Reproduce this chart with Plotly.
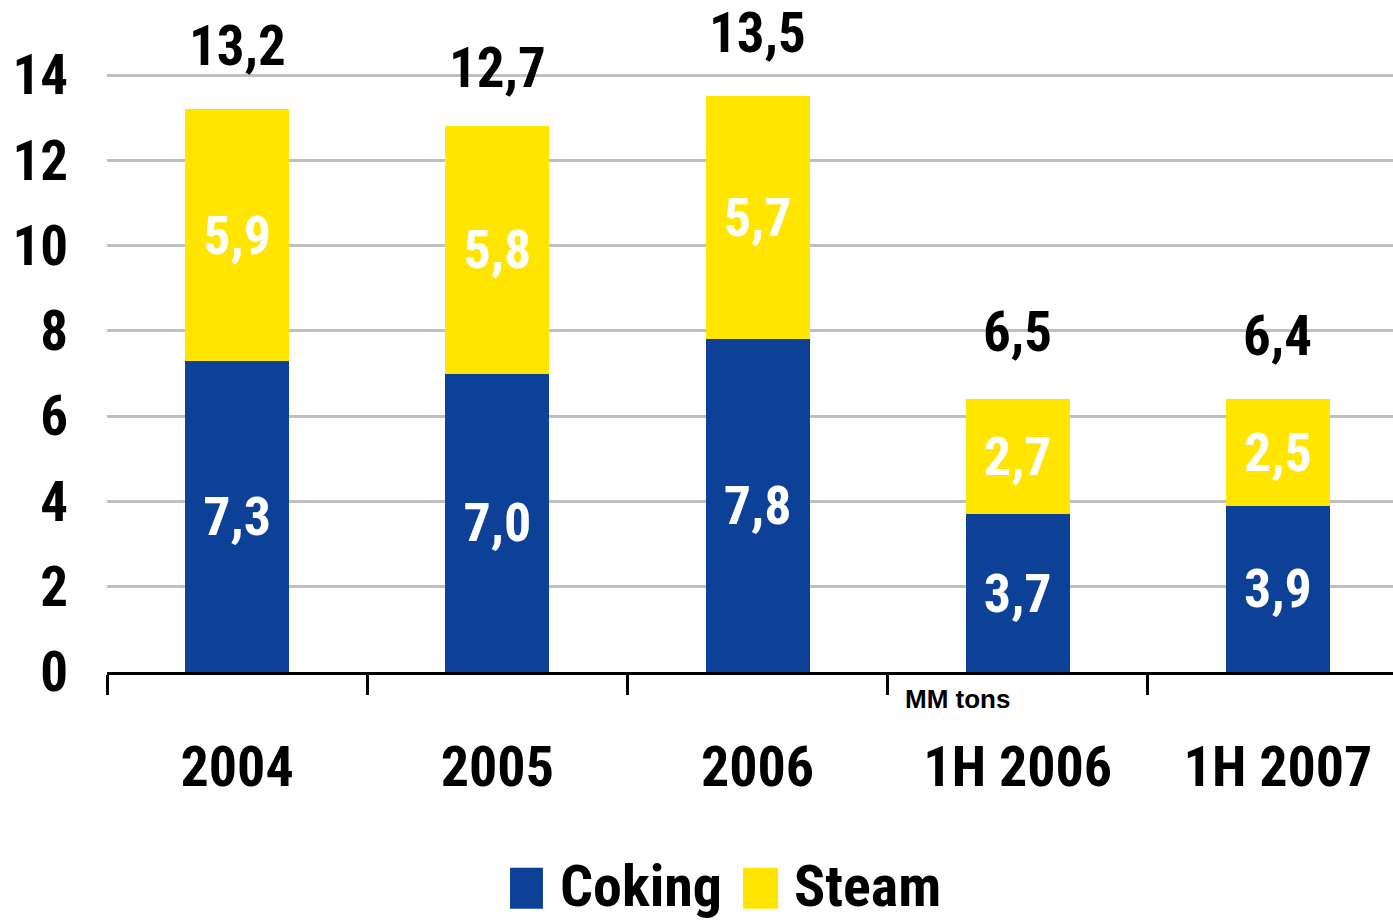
import plotly.graph_objects as go

categories = ["2004", "2005", "2006", "1H 2006", "1H 2007"]
coking = [7.3, 7.0, 7.8, 3.7, 3.9]
steam = [5.9, 5.8, 5.7, 2.7, 2.5]
totals = [13.2, 12.7, 13.5, 6.5, 6.4]
y_ticks = [0, 2, 4, 6, 8, 10, 12, 14]

BLUE = "#0D4198"
YELLOW = "#FFE500"
FONT = "Liberation Sans Narrow, Arial Narrow, Roboto Condensed, Liberation Sans, sans-serif"

def fmt(v):
    return f"{v:.1f}".replace(".", ",")

fig = go.Figure()
fig.add_trace(go.Bar(
    x=categories, y=coking, name="Coking", marker=dict(color=BLUE, line=dict(width=0)),
    text=[fmt(v) for v in coking], textposition="inside", insidetextanchor="middle",
    textfont=dict(family=FONT, size=54, color="white", weight="bold"), constraintext="none",
    showlegend=False,
))
fig.add_trace(go.Bar(
    x=categories, y=steam, name="Steam", marker=dict(color=YELLOW, line=dict(width=0)),
    text=[fmt(v) for v in steam], textposition="inside", insidetextanchor="middle",
    textfont=dict(family=FONT, size=54, color="white", weight="bold"), constraintext="none",
    showlegend=False,
))

# totals above bars (x given as category index to avoid numeric-string ambiguity)
for i, t in enumerate(totals):
    fig.add_annotation(x=i, y=t, text=fmt(t), showarrow=False, yanchor="middle", yshift=63,
                       font=dict(family=FONT, size=55, color="black", weight="bold"))

fig.add_annotation(xref="paper", yref="paper", x=0.661, y=-0.045, text="MM tons", showarrow=False,
                   xanchor="center", yanchor="middle",
                   font=dict(family="Liberation Sans, Arial, sans-serif", size=26, color="black", weight="bold"))

# custom legend
legend_items = [("Coking", BLUE, 0.3134, 0.339, 0.3506), ("Steam", YELLOW, 0.4946, 0.5218, 0.5327)]
for name, col, x0, x1, xt in legend_items:
    fig.add_shape(type="rect", xref="paper", yref="paper", x0=x0, x1=x1, y0=-0.3953, y1=-0.3266,
                  fillcolor=col, line=dict(width=0))
    fig.add_annotation(xref="paper", yref="paper", x=xt, y=-0.358, text=name, showarrow=False,
                       xanchor="left", yanchor="middle",
                       font=dict(family=FONT, size=58, color="black", weight="bold"))

fig.update_layout(
    barmode="stack", bargap=0.6,
    width=1393, height=920,
    margin=dict(l=107, r=0, t=73, b=248),
    paper_bgcolor="white", plot_bgcolor="white",
    font=dict(family=FONT, color="black", weight="bold"),
    showlegend=False,
)
fig.update_xaxes(
    type="category", range=[-0.5, 4.442], tickson="boundaries", ticks="outside", ticklen=20,
    tickwidth=3, tickcolor="black", showline=True, linecolor="black", linewidth=3,
    showgrid=False, tickfont=dict(family=FONT, size=56, color="black", weight="bold"),
    ticklabelstandoff=44, automargin=False,
)
fig.update_yaxes(
    range=[0, 14.05], tickvals=y_ticks, ticktext=[str(v) for v in y_ticks],
    showgrid=True, gridcolor="#C0C0C0", gridwidth=3, zeroline=False, showline=False, ticks="",
    tickfont=dict(family=FONT, size=55, color="black", weight="bold"), ticklabelstandoff=38,
    automargin=False,
)

fig.write_html("out.html", config={"displayModeBar": False},
               post_script="document.body.style.margin='0';document.body.style.overflow='hidden';")
